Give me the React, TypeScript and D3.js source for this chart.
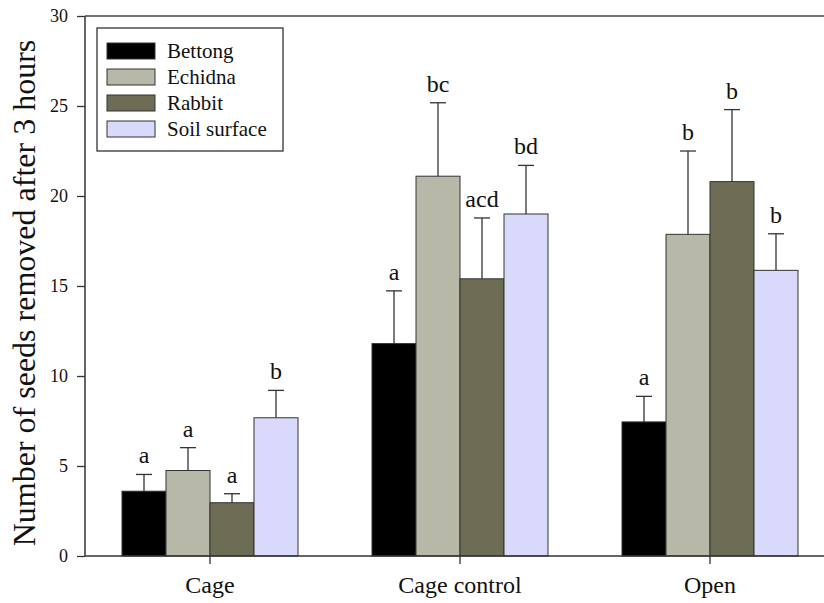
import React, { useEffect, useRef } from "react";
import * as d3 from "d3";

// Data
const treatments = ["Cage", "Cage control", "Open"];
const seedTypes = ["Bettong", "Echidna", "Rabbit", "Soil surface"];
const fills = ["#000000", "#b8b8a9", "#6d6d55", "#d9d9fb"];

const meanBettong = [3.6, 11.8, 7.45];
const meanEchidna = [4.75, 21.1, 17.87];
const meanRabbit = [2.96, 15.4, 20.8];
const meanSoil = [7.68, 19.0, 15.87];

const errBettong = [0.93, 2.93, 1.42];
const errEchidna = [1.27, 4.08, 4.63];
const errRabbit = [0.5, 3.38, 4.0];
const errSoil = [1.52, 2.7, 2.03];

const sigBettong = ["a", "a", "a"];
const sigEchidna = ["a", "bc", "b"];
const sigRabbit = ["a", "acd", "b"];
const sigSoil = ["b", "bd", "b"];

const yTicks = [0, 5, 10, 15, 20, 25, 30];

const App = () => {
  const ref = useRef<SVGSVGElement>(null);
  const width = 824;
  const height = 603;
  const margin = { top: 16, left: 85, bottom: 47 };

  useEffect(() => {
    const svg = d3.select(ref.current);
    svg.selectAll("*").remove();

    const means = [meanBettong, meanEchidna, meanRabbit, meanSoil];
    const errs = [errBettong, errEchidna, errRabbit, errSoil];
    const sigs = [sigBettong, sigEchidna, sigRabbit, sigSoil];

    // plot area runs past the right edge of the picture (figure is cropped)
    const x = d3.scaleBand().domain(treatments).range([margin.left, 835]).padding(0);
    const groupW = x.bandwidth() * 0.704;
    const xs = d3.scaleBand().domain(seedTypes).range([0, groupW]).padding(0);
    const y = d3.scaleLinear().domain([0, 30]).range([height - margin.bottom, margin.top]);

    const font = '"Liberation Serif", "DejaVu Serif", serif';

    // top frame line
    svg.append("line")
      .attr("x1", margin.left).attr("x2", width)
      .attr("y1", y(30)).attr("y2", y(30))
      .attr("stroke", "#444").attr("stroke-width", 1.5);

    // bars
    seedTypes.forEach((s, i) => {
      const g = svg.append("g");
      treatments.forEach((t, j) => {
        const x0 = (x(t) as number) + (x.bandwidth() - groupW) / 2 + (xs(s) as number);
        const v = means[i][j];
        const top = v + errs[i][j];
        g.append("rect")
          .attr("x", x0).attr("y", y(v))
          .attr("width", xs.bandwidth()).attr("height", y(0) - y(v))
          .attr("fill", fills[i]).attr("stroke", "#333").attr("stroke-width", 1);
        const cx = x0 + xs.bandwidth() / 2;
        g.append("line")
          .attr("x1", cx).attr("x2", cx)
          .attr("y1", y(v)).attr("y2", y(top))
          .attr("stroke", "#333").attr("stroke-width", 1.3);
        g.append("line")
          .attr("x1", cx - 8).attr("x2", cx + 8)
          .attr("y1", y(top)).attr("y2", y(top))
          .attr("stroke", "#333").attr("stroke-width", 1.3);
        g.append("text")
          .attr("x", cx).attr("y", y(top) - 11)
          .attr("text-anchor", "middle")
          .style("font-family", font).style("font-size", "24px")
          .attr("fill", "#111")
          .text(sigs[i][j]);
      });
    });

    // y axis
    const yAxis = svg.append("g")
      .attr("transform", `translate(${margin.left},0)`)
      .call(d3.axisLeft(y).tickValues(yTicks).tickSize(8).tickPadding(9).tickFormat(d3.format("d")));
    yAxis.select(".domain").attr("stroke", "#333").attr("stroke-width", 1.5)
      .attr("d", `M0,${y(0)}V${y(30)}`);
    yAxis.selectAll(".tick line").attr("stroke", "#333").attr("stroke-width", 1.3);
    yAxis.selectAll("text").style("font-family", font).style("font-size", "18px").attr("fill", "#111");

    // x axis
    const xAxis = svg.append("g")
      .attr("transform", `translate(0,${y(0)})`)
      .call(d3.axisBottom(x).tickSize(8).tickPadding(12));
    xAxis.select(".domain").attr("stroke", "#333").attr("stroke-width", 1.5)
      .attr("d", `M${margin.left},0H${width}`);
    xAxis.selectAll(".tick line").attr("stroke", "#333").attr("stroke-width", 1.3);
    xAxis.selectAll("text").style("font-family", font).style("font-size", "24px").attr("fill", "#111");

    // y axis title
    svg.append("text")
      .attr("transform", `translate(35,${(y(0) + y(30)) / 2 + 7}) rotate(-90)`)
      .attr("text-anchor", "middle")
      .style("font-family", font).style("font-size", "32px")
      .attr("fill", "#111")
      .text("Number of seeds removed after 3 hours");

    // legend
    const lg = svg.append("g").attr("transform", "translate(97,28)");
    lg.append("rect")
      .attr("width", 186).attr("height", 123)
      .attr("fill", "white").attr("stroke", "#333").attr("stroke-width", 1.3);
    seedTypes.forEach((s, i) => {
      lg.append("rect")
        .attr("x", 10).attr("y", 15 + i * 26)
        .attr("width", 48).attr("height", 16)
        .attr("fill", fills[i]).attr("stroke", "#333").attr("stroke-width", 1);
      lg.append("text")
        .attr("x", 70).attr("y", 30 + i * 26)
        .style("font-family", font).style("font-size", "21px")
        .attr("fill", "#111")
        .text(s);
    });
  });

  return <svg ref={ref} width={width} height={height} style={{ display: "block", position: "absolute", left: 0, top: 0 }} />;
};

export default App;
